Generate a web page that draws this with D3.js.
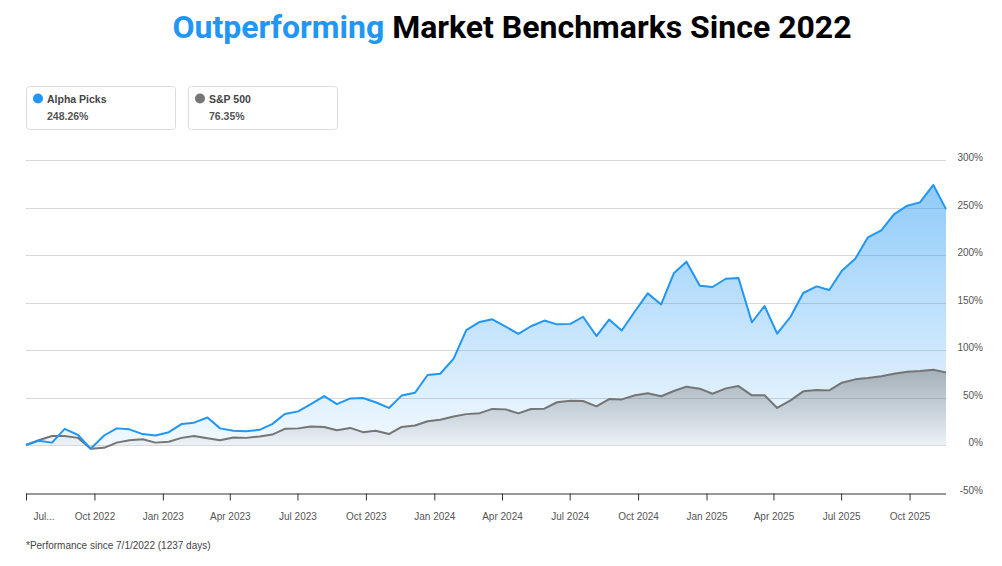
<!DOCTYPE html>
<html>
<head>
<meta charset="utf-8">
<script src="https://cdn.jsdelivr.net/npm/d3@7"></script>
<style>
  html, body { margin: 0; padding: 0; background: #fff; }
  svg { display: block; }
</style>
</head>
<body>
<svg id="chart" width="1002" height="566"></svg>
<script>
// ---- data ----
const startDate = "2022-07-01";
const endDate = "2025-11-19";
const dayOffsets = [0, 17, 35, 52, 70, 87, 105, 122, 139, 157, 174, 192, 209, 226, 244, 261, 279, 296, 314, 331,
  348, 366, 383, 401, 418, 436, 453, 470, 488, 505, 523, 540, 557, 575, 592, 610, 627, 645, 662, 679,
  697, 714, 732, 749, 767, 784, 801, 819, 836, 854, 871, 888, 906, 923, 941, 958, 976, 993, 1010, 1028,
  1045, 1063, 1080, 1097, 1115, 1132, 1150, 1167, 1185, 1202, 1220, 1237];
const alphaPicks = [0, 4.5, 2.5, 17, 10.5, -4, 10, 17.5, 16.5, 11.5, 10, 13.5, 22, 23.5, 29, 17.5, 15, 14.5, 16, 22,
  32.6, 35.4, 43, 51.5, 43, 49, 49.5, 45, 39, 52, 55, 73.7, 75, 91, 121, 129.5, 132.3, 124.5, 117, 125,
  131, 127, 127.5, 135, 114.7, 132, 120.5, 141, 159.6, 148, 180.7, 193, 167.7, 166.3, 175, 175.8, 129.2, 146.3, 117.2, 135,
  160, 167, 163.2, 183.5, 196, 218.6, 226, 242.8, 251.9, 255.4, 273.7, 248.26];
const sp500 = [0, 5, 9.5, 9.5, 7.5, -4, -3, 2.5, 5, 6, 2.5, 3.5, 7.5, 9.5, 7, 5, 8, 7.5, 9, 11,
  17, 17.5, 19.5, 19, 15.5, 18, 13.5, 15, 11.5, 19, 20.5, 25, 26.5, 30, 32.5, 33.5, 38, 37.5, 33.3, 37.9,
  38.2, 45, 46.7, 46.3, 40.7, 48.4, 48, 52.3, 54.4, 51.3, 56.8, 61.4, 59.3, 54, 59.6, 62, 52.3, 52.3, 39, 47,
  56.5, 57.9, 57.5, 65.6, 69.1, 70.5, 72.3, 75, 77.2, 77.9, 79.3, 76.35];
const seriesNames = ["Alpha Picks", "S&P 500"];
const seriesTotals = ["248.26%", "76.35%"];
const yTicks = [300, 250, 200, 150, 100, 50, 0, -50];
const xTickDates = ["2022-07-01", "2022-10-01", "2023-01-01", "2023-04-01", "2023-07-01", "2023-10-01", "2024-01-01",
  "2024-04-01", "2024-07-01", "2024-10-01", "2025-01-01", "2025-04-01", "2025-07-01", "2025-10-01"];
const xTickLabels = ["Jul...", "Oct 2022", "Jan 2023", "Apr 2023", "Jul 2023", "Oct 2023", "Jan 2024",
  "Apr 2024", "Jul 2024", "Oct 2024", "Jan 2025", "Apr 2025", "Jul 2025", "Oct 2025"];

// ---- setup ----
const parse = d3.utcParse("%Y-%m-%d");
const start = parse(startDate);
const dates = dayOffsets.map(d => d3.utcDay.offset(start, d));
const blueC = "#2196F3", grayC = "#757575";
const svg = d3.select("#chart");
const font = "'Liberation Sans', Arial, sans-serif";

const x = d3.scaleUtc().domain([start, parse(endDate)]).range([26, 946]);
const y = d3.scaleLinear().domain([-50, 300]).range([492.5, 160]);

// Title
const title = svg.append("text")
  .attr("x", 512).attr("y", 38)
  .attr("text-anchor", "middle")
  .style("font-family", "Roboto, sans-serif")
  .style("font-weight", "700")
  .style("font-size", "32px");
title.append("tspan").attr("fill", blueC).text("Outperforming");
title.append("tspan").attr("fill", "#000").text(" Market Benchmarks Since 2022");

// Legend boxes
const legendColors = [blueC, grayC];
seriesNames.forEach((name, i) => {
  const g = svg.append("g").attr("transform", `translate(${26 + i * 162},86)`);
  g.append("rect").attr("x", 0.5).attr("y", 0.5).attr("width", 149).attr("height", 43)
    .attr("rx", 3).attr("fill", "#fff").attr("stroke", "#dcdcdc");
  g.append("circle").attr("cx", 12).attr("cy", 12.5).attr("r", 5).attr("fill", legendColors[i]);
  g.append("text").attr("x", 21).attr("y", 16.5).text(name)
    .style("font-family", font).style("font-size", "10.5px").style("font-weight", "700").attr("fill", "#444");
  g.append("text").attr("x", 21).attr("y", 34).text(seriesTotals[i])
    .style("font-family", font).style("font-size", "10.5px").style("font-weight", "700").attr("fill", "#555");
});

// Gradients
const defs = svg.append("defs");
const gb = defs.append("linearGradient").attr("id", "gBlue")
  .attr("gradientUnits", "userSpaceOnUse").attr("x1", 0).attr("x2", 0)
  .attr("y1", y(d3.max(alphaPicks))).attr("y2", y(0));
gb.append("stop").attr("offset", "0%").attr("stop-color", blueC).attr("stop-opacity", 0.5);
gb.append("stop").attr("offset", "100%").attr("stop-color", blueC).attr("stop-opacity", 0.06);
const gg = defs.append("linearGradient").attr("id", "gGray")
  .attr("gradientUnits", "userSpaceOnUse").attr("x1", 0).attr("x2", 0)
  .attr("y1", y(d3.max(sp500))).attr("y2", y(0));
gg.append("stop").attr("offset", "0%").attr("stop-color", grayC).attr("stop-opacity", 0.5);
gg.append("stop").attr("offset", "100%").attr("stop-color", grayC).attr("stop-opacity", 0.05);

// Grid lines
svg.append("g").selectAll("line").data(yTicks.filter(t => t > -50)).join("line")
  .attr("x1", 26).attr("x2", 946)
  .attr("y1", d => Math.round(y(d)) + 0.5).attr("y2", d => Math.round(y(d)) + 0.5)
  .attr("stroke", "#d8d8d8").attr("stroke-width", 1);

// Y labels (right side)
svg.append("g").selectAll("text").data(yTicks).join("text")
  .attr("x", 983).attr("y", d => y(d) + 1)
  .attr("text-anchor", "end")
  .style("font-family", font).style("font-size", "10px").attr("fill", "#555")
  .text(d => d + "%");

// Areas and lines
const areaGen = data => d3.area().x((d, i) => x(dates[i])).y0(y(0)).y1(d => y(d))(data);
const lineGen = data => d3.line().x((d, i) => x(dates[i])).y(d => y(d))(data);

svg.append("path").attr("d", areaGen(alphaPicks)).attr("fill", "url(#gBlue)");
svg.append("path").attr("d", areaGen(sp500)).attr("fill", "url(#gGray)");
svg.append("path").attr("d", lineGen(sp500)).attr("fill", "none").attr("stroke", grayC)
  .attr("stroke-width", 2).attr("stroke-linejoin", "round");
svg.append("path").attr("d", lineGen(alphaPicks)).attr("fill", "none").attr("stroke", blueC)
  .attr("stroke-width", 2).attr("stroke-linejoin", "round");

// X axis
const tickDates = xTickDates.map(parse);
const xAxis = d3.axisBottom(x).tickValues(tickDates).tickSize(7)
  .tickFormat((d, i) => xTickLabels[i]);
const ax = svg.append("g").attr("transform", `translate(0,${Math.round(y(-50)) + 0.5})`).call(xAxis);
ax.select(".domain").attr("stroke", "#333").attr("d", "M26,0.5H946");
ax.selectAll(".tick line").attr("stroke", "#333");
ax.selectAll(".tick text").style("font-family", font).style("font-size", "10px")
  .attr("fill", "#555").attr("y", 19);
ax.selectAll(".tick text").filter((d, i) => i === 0).attr("text-anchor", "start").attr("dx", 7);

// Footnote
svg.append("text").attr("x", 26).attr("y", 549)
  .style("font-family", font).style("font-size", "10px").attr("fill", "#444")
  .text("*Performance since 7/1/2022 (1237 days)");
</script>
</body>
</html>
